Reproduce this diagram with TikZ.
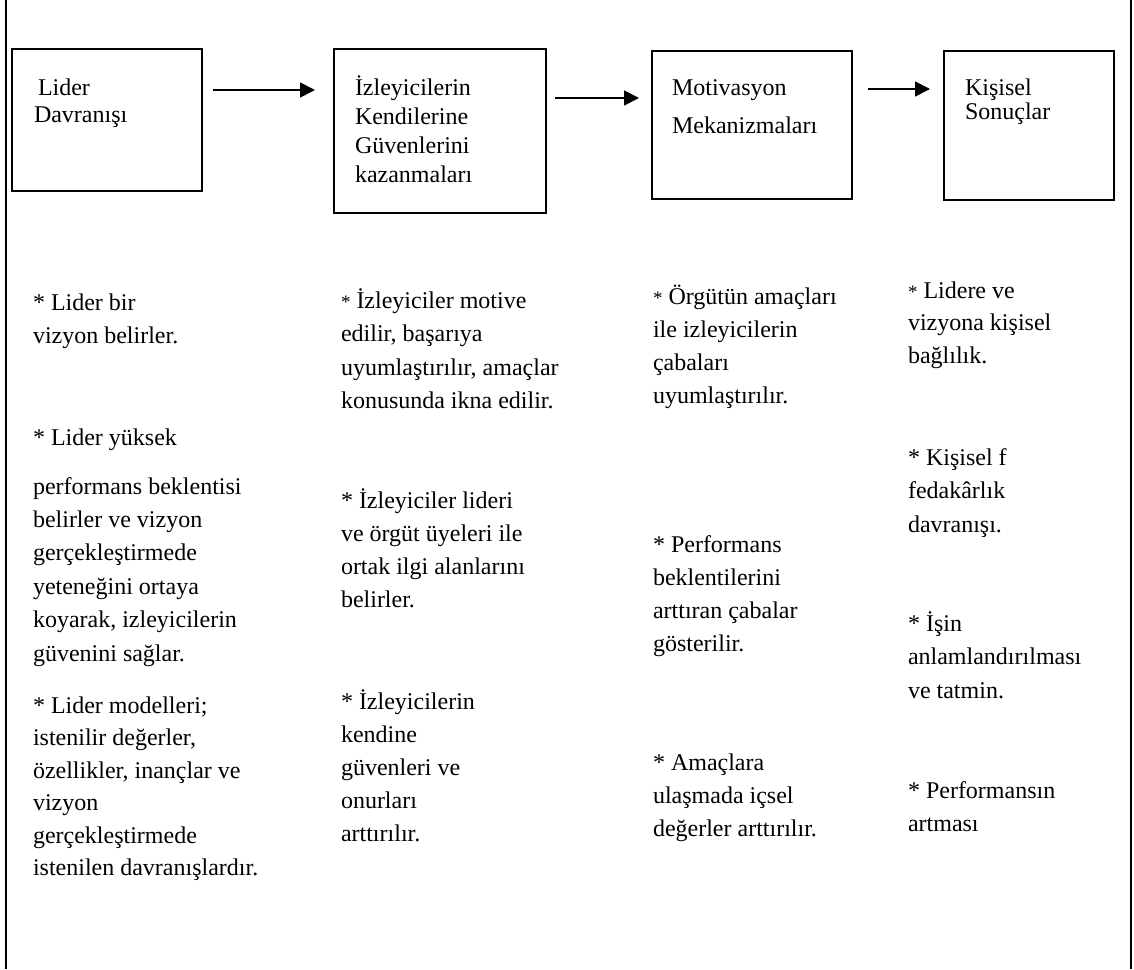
\documentclass[tikz,border=0pt]{standalone}
\usepackage{fontspec}
\setmainfont{Liberation Serif}
\usetikzlibrary{arrows.meta}
\newcommand{\blk}[2][33.3]{\parbox[t]{330pt}{\raggedright\fontsize{24}{#1}\selectfont #2}}
\newcommand{\sast}{{\fontsize{19}{19}\selectfont *}}
\begin{document}
\begin{tikzpicture}[x=1pt,y=-1pt,
  box/.style={draw, line width=1.6pt, inner sep=0pt, outer sep=0pt, anchor=north west},
  flow/.style={line width=1.8pt, -{Triangle[length=15pt,width=15pt]}},
  txt/.style={anchor=base west, inner sep=0pt, outer sep=0pt},
  frame/.style={line width=2.4pt}]
\useasboundingbox (0,0) rectangle (1134,969);
% side frame lines
\coordinate (fl1) at (6,0);
\coordinate (fl2) at (6,969);
\coordinate (fr1) at (1131,0);
\coordinate (fr2) at (1131,969);
\draw[frame] (fl1) -- (fl2);
\draw[frame] (fr1) -- (fr2);
% boxes
\node[box, minimum width=190pt, minimum height=142pt] (b1) at (12,49) {};
\node[box, minimum width=212pt, minimum height=164pt] (b2) at (334,49) {};
\node[box, minimum width=200pt, minimum height=148pt] (b3) at (652,51) {};
\node[box, minimum width=170pt, minimum height=149pt] (b4) at (944,51) {};
% box texts
\node[txt] (t1) at (34,95) {\blk[27]{\hspace{4pt}Lider\\Davranışı}};
\node[txt] (t2) at (355,95) {\blk[29.3]{İzleyicilerin\\Kendilerine\\Güvenlerini\\kazanmaları}};
\node[txt] (t3) at (672,95) {\blk[38]{Motivasyon\\Mekanizmaları}};
\node[txt] (t4) at (965,95) {\blk[24]{Kişisel\\Sonuçlar}};
% arrows
\coordinate (a1s) at (213,90);
\coordinate (a1e) at (315,90);
\coordinate (a2s) at (555,98);
\coordinate (a2e) at (639,98);
\coordinate (a3s) at (868,89);
\coordinate (a3e) at (930,89);
\draw[flow] (a1s) -- (a1e);
\draw[flow] (a2s) -- (a2e);
\draw[flow] (a3s) -- (a3e);
% column 1
\node[txt] (c1a) at (33,310) {\blk[33]{* Lider bir\\vizyon belirler.}};
\node[txt] (c1b) at (33,445) {\blk{* Lider yüksek}};
\node[txt] (c1c) at (33,494) {\blk[33.4]{performans beklentisi\\belirler ve vizyon\\gerçekleştirmede\\yeteneğini ortaya\\koyarak, izleyicilerin\\güvenini sağlar.}};
\node[txt] (c1d) at (33,713) {\blk[32.5]{* Lider modelleri;\\istenilir değerler,\\özellikler, inançlar ve\\vizyon\\gerçekleştirmede\\istenilen davranışlardır.}};
% column 2
\node[txt] (c2a) at (341,308) {\blk[33.6]{\sast\ İzleyiciler motive\\edilir, başarıya\\uyumlaştırılır, amaçlar\\konusunda ikna edilir.}};
\node[txt] (c2b) at (341,508) {\blk[33.3]{* İzleyiciler lideri\\ve örgüt üyeleri ile\\ortak ilgi alanlarını\\belirler.}};
\node[txt] (c2c) at (341,709) {\blk[33]{* İzleyicilerin\\kendine\\güvenleri ve\\onurları\\arttırılır.}};
% column 3
\node[txt] (c3a) at (653,304) {\blk[33.3]{\sast\ Örgütün amaçları\\ile izleyicilerin\\çabaları\\uyumlaştırılır.}};
\node[txt] (c3b) at (653,552) {\blk[33.3]{* Performans\\beklentilerini\\arttıran çabalar\\gösterilir.}};
\node[txt] (c3c) at (653,770) {\blk[33]{* Amaçlara\\ulaşmada içsel\\değerler arttırılır.}};
% column 4
\node[txt] (c4a) at (908,298) {\blk[32.7]{\sast\ Lidere ve\\vizyona kişisel\\bağlılık.}};
\node[txt] (c4b) at (908,465) {\blk[33.5]{* Kişisel f\\fedakârlık\\davranışı.}};
\node[txt] (c4c) at (908,631) {\blk[33.5]{* İşin\\anlamlandırılması\\ve tatmin.}};
\node[txt] (c4d) at (908,798) {\blk[33]{* Performansın\\artması}};
\end{tikzpicture}
\end{document}
